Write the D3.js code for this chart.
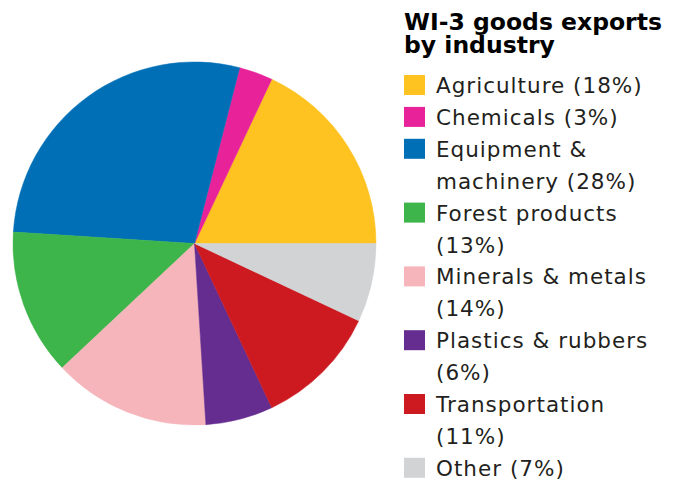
<!DOCTYPE html>
<html>
<head>
<meta charset="utf-8">
<script src="https://cdn.jsdelivr.net/npm/d3@7"></script>
<style>
  body { margin: 0; background: #fff; }
  .legendText { font-family: 'DejaVu Sans', sans-serif; font-weight: 400; font-size: 21.5px; letter-spacing: 1px; fill: #231f20; }
  .chartTitle { font-family: 'DejaVu Sans', sans-serif; font-weight: 700; font-size: 23.5px; fill: #000; }
</style>
</head>
<body>
<svg id="chart" width="682" height="481"></svg>
<script>
const width = 682, height = 481;

// data
const industries = ['Agriculture', 'Chemicals', 'Equipment & machinery', 'Forest products',
  'Minerals & metals', 'Plastics & rubbers', 'Transportation', 'Other'];
const shares = [18, 3, 28, 13, 14, 6, 11, 7];
const sliceColors = ['#fec221', '#e8239a', '#006fb6', '#3eb54b', '#f5b5ba', '#652d90', '#cc1a20', '#d1d3d4'];
// legend text, broken where the original wraps
const legendLines = [
  ['Agriculture (18%)'],
  ['Chemicals (3%)'],
  ['Equipment &', 'machinery (28%)'],
  ['Forest products', '(13%)'],
  ['Minerals & metals', '(14%)'],
  ['Plastics & rubbers', '(6%)'],
  ['Transportation', '(11%)'],
  ['Other (7%)']
];
const titleLines = ['WI-3 goods exports', 'by industry'];

const fig = {cx: 194.5, cy: 243.5, r: 181.5};

const svg = d3.select('#chart');

const data = industries.map((name, i) => ({name: name, value: shares[i], color: sliceColors[i]}));

// counter-clockwise from 3 o'clock
const pie = d3.pie()
  .value(d => d.value)
  .sort(null)
  .startAngle(Math.PI / 2)
  .endAngle(Math.PI / 2 - 2 * Math.PI)
  ;
const arc = d3.arc().innerRadius(0).outerRadius(fig.r);

svg.append('g')
  .attr('transform', 'translate(' + fig.cx + ',' + fig.cy + ')')
  .selectAll('path')
  .data(pie(data))
  .join('path')
    .attr('d', arc)
    .style('fill', d => d.data.color)
    .style('stroke', d => d.data.color)
    .style('stroke-width', 0.5)
  ;

// title
svg.append('text')
  .attr('class', 'chartTitle')
  .selectAll('tspan')
  .data(titleLines)
  .join('tspan')
    .attr('x', 404)
    .attr('y', (d, i) => 29.5 + i * 23)
    .text(d => d)
  ;

// legend
const lineH = 31.9;
let row = 0;
const legend = svg.append('g');
data.forEach((d, i) => {
  const y0 = 93 + row * lineH;
  legend.append('rect')
    .attr('x', 404)
    .attr('y', y0 - 18)
    .attr('width', 21)
    .attr('height', 20)
    .style('fill', d.color);
  legend.append('text')
    .attr('class', 'legendText')
    .selectAll('tspan')
    .data(legendLines[i])
    .join('tspan')
      .attr('x', 436)
      .attr('y', (t, j) => y0 + j * lineH)
      .text(t => t);
  row += legendLines[i].length;
});
</script>
</body>
</html>
